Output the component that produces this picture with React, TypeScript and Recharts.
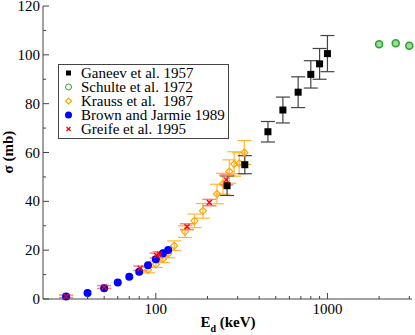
import React from 'react';
import { ScatterChart, Scatter, XAxis, YAxis, ErrorBar, Legend, Label } from 'recharts';

const FONT = "'Liberation Serif', 'Times New Roman', Times, serif";

// Ganeev et al. 1957
const ganeevE = [260, 330, 450, 550, 675, 800, 900, 1000];
const ganeevSigma = [46.4, 55.0, 68.5, 77.4, 84.7, 92.0, 96.3, 100.5];
const ganeevErr = [4.0, 3.7, 4.2, 5.3, 6.3, 5.6, 6.3, 7.4];

// Schulte et al. 1972
const schulteE = [2000, 2500, 3000];
const schulteSigma = [104.3, 104.7, 103.7];

// Krauss et al. 1987
const kraussE = [90, 100, 110, 118, 128, 148, 168, 188, 227, 246, 268, 286, 306, 328];
const kraussSigma = [11.9, 14.2, 16.4, 18.5, 21.8, 27.6, 32.0, 36.1, 43.0, 47.2, 52.2, 55.3, 55.6, 60.0];
const kraussErr = [1.2, 1.3, 1.5, 1.6, 2.0, 2.4, 2.8, 3.0, 4.0, 4.3, 4.8, 5.0, 4.3, 4.9];

// Brown and Jarmie 1989
const brownE = [30, 40, 50, 60, 70, 80, 90, 100, 110, 118];
const brownSigma = [1.0, 2.5, 4.4, 6.8, 9.1, 11.2, 13.8, 16.3, 18.7, 20.1];

// Greife et al. 1995
const greifeE = [30, 50, 81, 101, 105, 152, 205, 257];
const greifeSigma = [1.1, 4.9, 12.6, 17.8, 18.3, 29.6, 39.5, 48.8];
const greifeErr = [0.5, 0.6, 0.9, 1.0, 1.0, 1.2, 1.3, 2.0];

const xTicks = [30, 40, 50, 60, 70, 80, 90, 100, 200, 300, 400, 500, 600, 700, 800, 900, 1000, 2000, 3000];
const xLabels = [100, 1000];
const yTicks = [0, 10, 20, 30, 40, 50, 60, 70, 80, 90, 100, 110, 120];
const yLabels = [0, 20, 40, 60, 80, 100, 120];

const AXIS = '#444';

const toRows = (e: number[], s: number[], err?: number[]) =>
  e.map((v, i) => ({ e: v, s: s[i], err: err ? err[i] : 0 }));

const ganeev = toRows(ganeevE, ganeevSigma, ganeevErr);
const schulte = toRows(schulteE, schulteSigma);
const krauss = toRows(kraussE, kraussSigma, kraussErr);
const brown = toRows(brownE, brownSigma);
const greife = toRows(greifeE, greifeSigma, greifeErr);

const BottomTick = ({ x, y, payload }: any) => {
  const major = xLabels.includes(payload.value);
  return (
    <g>
      <line x1={x} y1={y} x2={x} y2={y - (major ? 6 : 3)} stroke={AXIS} />
      {major && (
        <text x={x} y={y + 15} textAnchor="middle" fontFamily={FONT} fontSize={15} fill="#000">
          {payload.value}
        </text>
      )}
    </g>
  );
};

const TopTick = ({ x, y, payload }: any) => {
  const major = xLabels.includes(payload.value);
  return <line x1={x} y1={y} x2={x} y2={y + (major ? 6 : 3)} stroke={AXIS} />;
};

const LeftTick = ({ x, y, payload }: any) => {
  const major = yLabels.includes(payload.value);
  return (
    <g>
      <line x1={x} y1={y} x2={x + (major ? 6 : 3)} y2={y} stroke={AXIS} />
      {major && (
        <text x={x - 3} y={y + 5} textAnchor="end" fontFamily={FONT} fontSize={15} fill="#000">
          {payload.value}
        </text>
      )}
    </g>
  );
};

const RightTick = ({ x, y, payload }: any) => {
  const major = yLabels.includes(payload.value);
  return <line x1={x} y1={y} x2={x - (major ? 6 : 3)} y2={y} stroke={AXIS} />;
};

// marker drawers (explicit sizes, independent of props Recharts passes)
const drawSquare = (cx: number, cy: number, half: number) => (
  <rect x={cx - half} y={cy - half} width={half * 2} height={half * 2} fill="#000" />
);
const drawRing = (cx: number, cy: number, rad: number, filled: boolean) => (
  <circle cx={cx} cy={cy} r={rad} fill={filled ? '#9fd89f' : 'none'} stroke="#2ca02c" strokeWidth={filled ? 1.5 : 1} />
);
const drawDiamond = (cx: number, cy: number, half: number) => (
  <path d={`M${cx},${cy - half}L${cx + half},${cy}L${cx},${cy + half}L${cx - half},${cy}Z`} fill="none" stroke="#ffa500" strokeWidth={1.2} />
);
const drawDot = (cx: number, cy: number, rad: number) => <circle cx={cx} cy={cy} r={rad} fill="#0000ff" />;
const drawCross = (cx: number, cy: number, half: number) => (
  <path
    d={`M${cx - half},${cy - half}L${cx + half},${cy + half}M${cx - half},${cy + half}L${cx + half},${cy - half}`}
    stroke="#ff0000"
    strokeWidth={1.3}
  />
);

const SquareShape = (p: any) => drawSquare(p.cx, p.cy, 3.5);
const RingShape = (p: any) => drawRing(p.cx, p.cy, 3.5, true);
const DiamondShape = (p: any) => drawDiamond(p.cx, p.cy, 3.5);
const DotShape = (p: any) => drawDot(p.cx, p.cy, 4);
const CrossShape = (p: any) => drawCross(p.cx, p.cy, 2.5);

const legendItems = [
  { name: 'Ganeev et al. 1957', icon: drawSquare(9.5, 7, 2.5) },
  { name: 'Schulte et al. 1972', icon: drawRing(9.5, 7, 3, false) },
  { name: 'Krauss et al.  1987', icon: drawDiamond(9.5, 7, 3) },
  { name: 'Brown and Jarmie 1989', icon: drawDot(9.5, 7, 3.5) },
  { name: 'Greife et al. 1995', icon: drawCross(9.5, 7, 2) },
];

const LegendBox = () => (
  <div
    style={{
      border: `1px solid ${AXIS}`,
      width: 169,
      height: 72,
      paddingTop: 1,
      boxSizing: 'content-box',
      background: '#fff',
      fontFamily: FONT,
      fontSize: '15px',
      color: '#000',
      overflow: 'hidden',
    }}
  >
    {legendItems.map((it) => (
      <div key={it.name} style={{ height: 14, lineHeight: '14px', display: 'flex', alignItems: 'center', whiteSpace: 'pre' }}>
        <svg width={22} height={14} style={{ flex: 'none' }}>
          {it.icon}
        </svg>
        <span>{it.name}</span>
      </div>
    ))}
  </div>
);

export default function App() {
  return (
    <div style={{ position: 'absolute', left: 0, top: 0, width: 415, height: 335, background: '#fff', fontFamily: FONT }}>
      <ScatterChart width={415} height={335} margin={{ top: 6, right: 3, left: 0, bottom: 0 }}>
        <XAxis
          dataKey="e"
          type="number"
          scale="log"
          domain={[22, 3110]}
          ticks={xTicks}
          interval={0}
          height={36}
          tickSize={0}
          tickMargin={0}
          tickLine={false}
          tick={BottomTick}
          axisLine={{ stroke: AXIS }}
        >
          <Label
            content={() => (
              <text x={228} y={327} textAnchor="middle" fontFamily={FONT} fontSize={15} fontWeight="bold" fill="#000">
                <tspan>E</tspan>
                <tspan dy={5} fontSize={10}>d</tspan>
                <tspan dy={-5}> (keV)</tspan>
              </text>
            )}
          />
        </XAxis>
        <XAxis
          xAxisId="top"
          orientation="top"
          dataKey="e"
          type="number"
          scale="log"
          domain={[22, 3110]}
          ticks={xTicks}
          interval={0}
          height={0}
          tickSize={0}
          tickMargin={0}
          tickLine={false}
          tick={TopTick}
          axisLine={{ stroke: AXIS }}
        />
        <YAxis
          dataKey="s"
          type="number"
          domain={[0, 120]}
          ticks={yTicks}
          interval={0}
          width={43}
          tickSize={0}
          tickMargin={0}
          tickLine={false}
          tick={LeftTick}
          axisLine={{ stroke: AXIS }}
        >
          <Label
            content={() => (
              <text
                x={12.5}
                y={152}
                transform="rotate(-90 12.5 152)"
                textAnchor="middle"
                fontFamily={FONT}
                fontSize={15}
                fontWeight="bold"
                fill="#000"
              >
                σ (mb)
              </text>
            )}
          />
        </YAxis>
        <YAxis
          yAxisId="right"
          orientation="right"
          dataKey="s"
          type="number"
          domain={[0, 120]}
          ticks={yTicks}
          interval={0}
          width={0}
          tickSize={0}
          tickMargin={0}
          tickLine={false}
          tick={RightTick}
          axisLine={{ stroke: AXIS }}
        />
        <Legend
          layout="vertical"
          align="center"
          verticalAlign="middle"
          content={LegendBox}
          wrapperStyle={{ left: 58, top: 64, width: 171, height: 74 }}
        />
        <Scatter data={schulte} shape={RingShape} isAnimationActive={false} />
        <Scatter data={krauss} shape={DiamondShape} isAnimationActive={false}>
          <ErrorBar dataKey="err" direction="y" width={7} stroke="#ffb733" strokeWidth={1.2} />
        </Scatter>
        <Scatter data={ganeev} shape={SquareShape} isAnimationActive={false}>
          <ErrorBar dataKey="err" direction="y" width={7} stroke="#444" strokeWidth={1.2} />
        </Scatter>
        <Scatter data={brown} shape={DotShape} isAnimationActive={false} />
        <Scatter data={greife} shape={CrossShape} isAnimationActive={false}>
          <ErrorBar dataKey="err" direction="y" width={7} stroke="#ff8080" strokeWidth={1.5} />
        </Scatter>
      </ScatterChart>
    </div>
  );
}
